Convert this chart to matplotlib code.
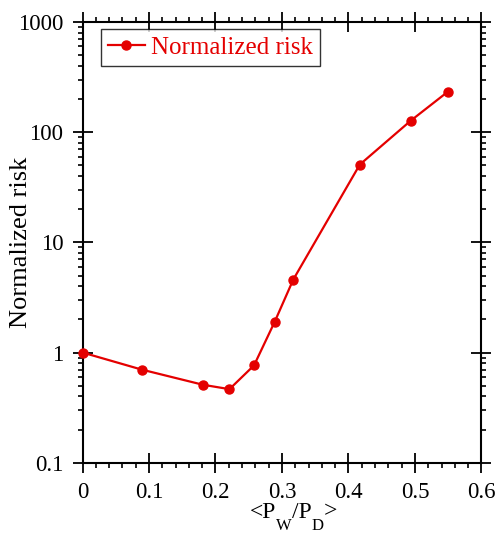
import matplotlib
matplotlib.use("Agg")
import matplotlib.pyplot as plt
from matplotlib.ticker import MultipleLocator, LogLocator, FixedLocator, FixedFormatter, NullFormatter

plt.rcParams['font.family'] = ['Liberation Serif', 'DejaVu Serif']

# Mean ratio <P_W/P_D> and normalized risk
pw_pd = [0.0, 0.089, 0.181, 0.221, 0.258, 0.289, 0.317, 0.417, 0.4935, 0.549]
risk = [1.0, 0.70, 0.51, 0.465, 0.765, 1.90, 4.6, 50.8, 127, 232]

y_ticks = [0.1, 1, 10, 100, 1000]
y_tick_labels = ['0.1', '1', '10', '100', '1000']
x_ticks = [0, 0.1, 0.2, 0.3, 0.4, 0.5, 0.6]
x_tick_labels = ['0', '0.1', '0.2', '0.3', '0.4', '0.5', '0.6']

red = '#e40000'
W, H = 495, 534

fig = plt.figure(figsize=(W / 100, H / 100), dpi=100)
ax = fig.add_axes([82.5 / W, 1 - 462.7 / H, 399 / W, 440.7 / H])

ax.plot(pw_pd, risk, color=red, lw=1.6, marker='o', ms=6.5,
        label='Normalized risk', clip_on=False, zorder=5)

ax.set_yscale('log')
ax.set_xlim(0, 0.6)
ax.set_ylim(0.1, 1000)

ax.xaxis.set_major_locator(FixedLocator(x_ticks))
ax.xaxis.set_major_formatter(FixedFormatter(x_tick_labels))
ax.xaxis.set_minor_locator(MultipleLocator(0.02))
ax.yaxis.set_major_locator(FixedLocator(y_ticks))
ax.yaxis.set_major_formatter(FixedFormatter(y_tick_labels))
ax.yaxis.set_minor_locator(LogLocator(base=10, subs=range(2, 10), numticks=20))
ax.yaxis.set_minor_formatter(NullFormatter())

for s in ax.spines.values():
    s.set_linewidth(1.5)

ax.tick_params(which='major', direction='inout', length=15, width=1.3,
               labelsize=16.5, top=True, right=True)
ax.tick_params(which='minor', direction='out', length=3.5, width=1.2,
               top=True, right=True)
ax.tick_params(axis='y', which='major', pad=6.3)
ax.tick_params(axis='x', which='major', pad=6.5)

ax.set_ylabel('Normalized risk', fontsize=19)
ax.yaxis.set_label_coords(-0.126, 0.5)

# x-axis label <P_W/P_D> with lowered subscripts, laid out piece by piece
label_parts = [('<P', 17, 0.0), ('W', 12, -12.0), ('/P', 17, 0.0),
               ('D', 12, -12.0), ('>', 17, 0.0)]
renderer = fig.canvas.get_renderer()
base_y = H - 517.5
texts, x = [], 0.0
for s, size, dy in label_parts:
    t = fig.text(x / W, (base_y + dy) / H, s, fontsize=size, va='baseline', ha='left')
    w = t.get_window_extent(renderer).width
    texts.append((t, x, dy))
    x += w
x0 = 293.3 - x / 2
for t, xx, dy in texts:
    t.set_x((x0 + xx) / W)

leg = ax.legend(loc='upper left', bbox_to_anchor=(0.046, 0.985), fontsize=18,
                frameon=True, fancybox=False, edgecolor='black',
                handlelength=1.45, handletextpad=0.25, borderpad=0.3,
                borderaxespad=0.0, markerscale=1.0)
leg.get_frame().set_linewidth(1.0)
for t in leg.get_texts():
    t.set_color(red)

fig.savefig('out.png', dpi=100)
